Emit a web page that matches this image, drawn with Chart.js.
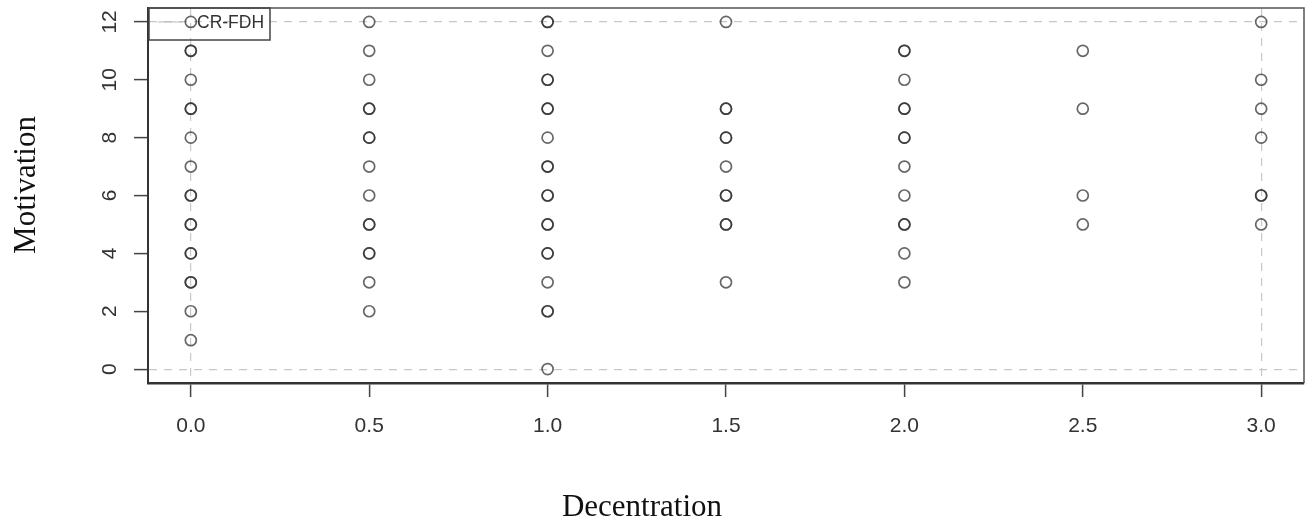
<!DOCTYPE html>
<html>
<head>
<meta charset="utf-8">
<script src="https://cdn.jsdelivr.net/npm/chart.js@4.4.1/dist/chart.umd.min.js"></script>
<style>
    html, body { margin: 0; padding: 0; background: #fff; }
</style>
</head>
<body>
<canvas id="chart" width="1314" height="529"></canvas>
<script>
// one entry per observation, repeated values are the darker (overlapping) circles
const decentration = [
    0, 0, 0, 0, 0, 0, 0, 0, 0, 0, 0, 0, 0, 0, 0, 0, 0, 0,
    0.5, 0.5, 0.5, 0.5, 0.5, 0.5, 0.5, 0.5, 0.5, 0.5, 0.5, 0.5, 0.5, 0.5, 0.5,
    1, 1, 1, 1, 1, 1, 1, 1, 1, 1, 1, 1, 1, 1, 1, 1, 1, 1, 1, 1,
    1.5, 1.5, 1.5, 1.5, 1.5, 1.5, 1.5, 1.5, 1.5, 1.5, 1.5,
    2, 2, 2, 2, 2, 2, 2, 2, 2, 2, 2, 2, 2,
    2.5, 2.5, 2.5, 2.5,
    3, 3, 3, 3, 3, 3, 3
];
const motivation = [
    12, 11, 11, 10, 9, 9, 8, 7, 6, 6, 5, 5, 4, 4, 3, 3, 2, 1,
    12, 11, 10, 9, 9, 8, 8, 7, 6, 5, 5, 4, 4, 3, 2,
    12, 12, 11, 10, 10, 9, 9, 8, 7, 7, 6, 6, 5, 5, 4, 4, 3, 2, 2, 0,
    12, 9, 9, 8, 8, 7, 6, 6, 5, 5, 3,
    11, 11, 10, 9, 9, 8, 8, 7, 6, 5, 5, 4, 3,
    11, 9, 6, 5,
    12, 10, 9, 8, 6, 6, 5
];

const x_ticks = [0, 0.5, 1, 1.5, 2, 2.5, 3];
const x_tick_labels = ["0.0", "0.5", "1.0", "1.5", "2.0", "2.5", "3.0"];
const y_ticks = [0, 2, 4, 6, 8, 10, 12];
const y_tick_labels = ["0", "2", "4", "6", "8", "10", "12"];

const series_name = "CR-FDH";
const x_title = "Decentration";
const y_title = "Motivation";

const points = decentration.map((x, i) => ({ x: x, y: motivation[i] }));

const title_font = "31px 'Liberation Serif', 'Times New Roman', serif";

// R-style box around the plot, the legend in the top-left corner and the axis titles
// (R centres the titles on its own plot region, which is not the box here)
const frame_and_legend = {
    id: "frame_and_legend",
    afterDraw(chart) {
        const ctx = chart.ctx;
        const area = chart.chartArea;
        ctx.save();
        ctx.strokeStyle = "#555";
        ctx.lineWidth = 1.5;
        ctx.beginPath();
        ctx.moveTo(area.left, area.top);
        ctx.lineTo(area.right, area.top);
        ctx.lineTo(area.right, area.bottom);
        ctx.stroke();

        // legend box
        ctx.strokeStyle = "#444";
        ctx.lineWidth = 1.5;
        ctx.strokeRect(area.left + 1, area.top, 121, 32);
        ctx.strokeStyle = "#bbb";
        ctx.lineWidth = 1;
        ctx.beginPath();
        ctx.moveTo(area.left + 10, area.top + 14);
        ctx.lineTo(area.left + 35, area.top + 14);
        ctx.stroke();
        ctx.fillStyle = "#333";
        ctx.font = "17.5px 'Liberation Sans', Arial, sans-serif";
        ctx.textBaseline = "middle";
        ctx.textAlign = "left";
        ctx.fillText(chart.data.datasets[0].label, area.left + 49, area.top + 15);

        // axis titles
        ctx.fillStyle = "#111";
        ctx.font = title_font;
        ctx.textAlign = "center";
        ctx.fillText(x_title, 642, 508);
        ctx.translate(27, 185);
        ctx.rotate(-Math.PI / 2);
        ctx.fillText(y_title, 0, 0);
        ctx.restore();
    }
};

const grid_at_ends = (values) => (context) => {
    const v = context.tick ? context.tick.value : null;
    return (v === values[0] || v === values[values.length - 1]) ? "#c8c8c8" : "rgba(0,0,0,0)";
};

new Chart("chart", {
    type: "scatter",
    data: {
        datasets: [{
            label: series_name,
            data: points,
            pointStyle: "circle",
            pointRadius: 5.5,
            pointHoverRadius: 5.5,
            pointBorderWidth: 1.7,
            borderColor: "rgba(45, 45, 45, 0.72)",
            backgroundColor: "rgba(0, 0, 0, 0)",
            clip: false
        }]
    },
    options: {
        responsive: false,
        animation: false,
        devicePixelRatio: 1,
        layout: {
            padding: { top: 8, right: 10, left: 0, bottom: 0 }
        },
        plugins: {
            legend: { display: false },
            tooltip: { enabled: false }
        },
        scales: {
            x: {
                type: "linear",
                min: -0.12,
                max: 3.12,
                afterBuildTicks: (scale) => {
                    scale.ticks = x_ticks.map((v) => ({ value: v }));
                },
                afterFit: (scale) => {
                    scale.height = 146;
                    scale.paddingLeft = 0;
                    scale.paddingRight = 0;
                },
                ticks: {
                    callback: (value, index) => x_tick_labels[index],
                    color: "#333",
                    font: { family: "'Liberation Sans', Arial, sans-serif", size: 21 },
                    padding: 17,
                    maxRotation: 0,
                    autoSkip: false
                },
                grid: {
                    color: grid_at_ends(x_ticks),
                    lineWidth: 1.2,
                    tickColor: "#444",
                    tickLength: 14,
                    tickWidth: 1.5,
                    tickBorderDash: []
                },
                border: { display: true, color: "#333", width: 2.5, dash: [8, 7] },
                title: { display: false, text: x_title }
            },
            y: {
                type: "linear",
                min: -0.48,
                max: 12.48,
                afterBuildTicks: (scale) => {
                    scale.ticks = y_ticks.map((v) => ({ value: v }));
                },
                afterFit: (scale) => {
                    scale.width = 148;
                    scale.paddingTop = 0;
                    scale.paddingBottom = 0;
                },
                ticks: {
                    callback: (value, index) => y_tick_labels[index],
                    color: "#333",
                    font: { family: "'Liberation Sans', Arial, sans-serif", size: 21 },
                    padding: 12,
                    minRotation: 90,
                    maxRotation: 90,
                    crossAlign: "center",
                    autoSkip: false
                },
                grid: {
                    color: grid_at_ends(y_ticks),
                    lineWidth: 1.2,
                    tickColor: "#444",
                    tickLength: 14,
                    tickWidth: 1.5,
                    tickBorderDash: []
                },
                border: { display: true, color: "#333", width: 2, dash: [8, 7] },
                title: { display: false, text: y_title }
            }
        }
    },
    plugins: [frame_and_legend]
});
</script>
</body>
</html>
